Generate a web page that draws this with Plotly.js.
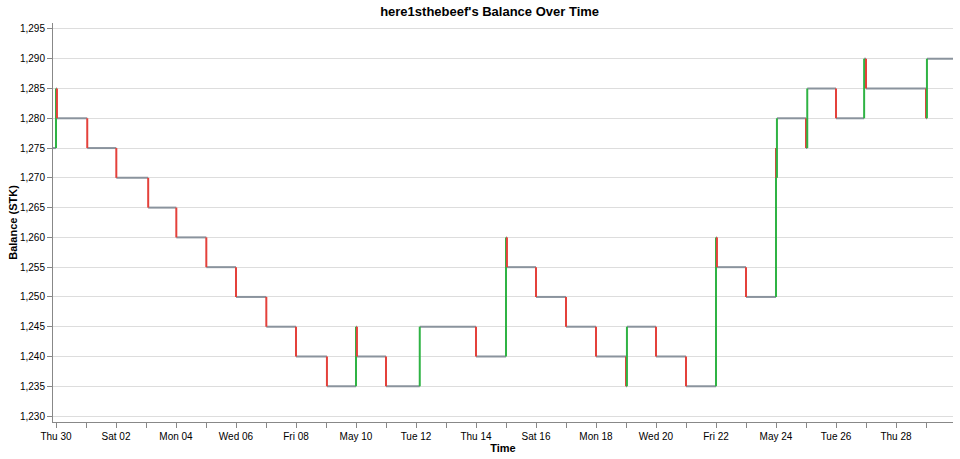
<!DOCTYPE html>
<html>
<head>
<meta charset="utf-8">
<script src="https://cdn.plot.ly/plotly-3.0.1.min.js"></script>
<style>
  html, body { margin: 0; padding: 0; background: #ffffff; }
  #chart { width: 960px; height: 459px; }
</style>
</head>
<body>
<div id="chart"></div>
<script>
// Balance history: timestamp of each transaction and the balance after it
const eventTimes = [
  '2026-04-29 21:36', '2026-04-30 00:00', '2026-04-30 00:45', '2026-05-01 01:00',
  '2026-05-02 00:15', '2026-05-03 01:45', '2026-05-04 00:15', '2026-05-05 00:15',
  '2026-05-06 00:00', '2026-05-07 00:15', '2026-05-08 00:00', '2026-05-09 00:45',
  '2026-05-10 00:00', '2026-05-10 00:45', '2026-05-11 00:00', '2026-05-12 03:00',
  '2026-05-14 00:00', '2026-05-15 00:00', '2026-05-15 00:45', '2026-05-16 00:00',
  '2026-05-17 00:00', '2026-05-18 00:00', '2026-05-19 00:00', '2026-05-19 00:45',
  '2026-05-20 00:00', '2026-05-21 00:00', '2026-05-22 00:00', '2026-05-22 00:45',
  '2026-05-23 00:00', '2026-05-24 00:00', '2026-05-24 00:05', '2026-05-24 00:45',
  '2026-05-25 00:00', '2026-05-25 01:00', '2026-05-26 00:00', '2026-05-26 22:30',
  '2026-05-27 00:00', '2026-05-29 00:00', '2026-05-29 00:45', '2026-05-29 21:36'
];
const balances = [
  1275, 1285, 1280, 1275,
  1270, 1265, 1260, 1255,
  1250, 1245, 1240, 1235,
  1245, 1240, 1235, 1245,
  1240, 1260, 1255, 1250,
  1245, 1240, 1235, 1245,
  1240, 1235, 1260, 1255,
  1250, 1275, 1270, 1280,
  1275, 1285, 1280, 1290,
  1285, 1280, 1290, 1290
];

// Axis ticks: one tick a day, label every other day
const dayTicks = [
  '2026-04-30', '2026-05-01', '2026-05-02', '2026-05-03', '2026-05-04', '2026-05-05',
  '2026-05-06', '2026-05-07', '2026-05-08', '2026-05-09', '2026-05-10', '2026-05-11',
  '2026-05-12', '2026-05-13', '2026-05-14', '2026-05-15', '2026-05-16', '2026-05-17',
  '2026-05-18', '2026-05-19', '2026-05-20', '2026-05-21', '2026-05-22', '2026-05-23',
  '2026-05-24', '2026-05-25', '2026-05-26', '2026-05-27', '2026-05-28', '2026-05-29'
];
const dayLabels = [
  'Thu 30', '', 'Sat 02', '', 'Mon 04', '', 'Wed 06', '', 'Fri 08', '',
  'May 10', '', 'Tue 12', '', 'Thu 14', '', 'Sat 16', '', 'Mon 18', '',
  'Wed 20', '', 'Fri 22', '', 'May 24', '', 'Tue 26', '', 'Thu 28', ''
];
const balanceTicks = [1230, 1235, 1240, 1245, 1250, 1255, 1260, 1265, 1270, 1275, 1280, 1285, 1290, 1295];

const COLORS = {
  FLAT: '#8a939d',
  UP: '#2fb344',
  DOWN: '#e4413b'
};
const FONT = '"Liberation Sans", Arial, sans-serif';

const traces = [];

// Flat stretches between transactions
const flatX = [];
const flatY = [];
for (let i = 0; i < eventTimes.length - 1; i++) {
  flatX.push(eventTimes[i], eventTimes[i + 1], null);
  flatY.push(balances[i], balances[i], null);
}
traces.push({
  x: flatX,
  y: flatY,
  mode: 'lines',
  line: { color: COLORS.FLAT, width: 2 },
  hoverinfo: 'skip',
  showlegend: false
});

// Each change as its own vertical rule, drawn in time order
for (let i = 1; i < eventTimes.length; i++) {
  const delta = balances[i] - balances[i - 1];
  if (delta === 0) continue;
  traces.push({
    x: [eventTimes[i], eventTimes[i]],
    y: [balances[i - 1], balances[i]],
    mode: 'lines',
    line: { color: delta > 0 ? COLORS.UP : COLORS.DOWN, width: 2 },
    hovertemplate: '%{x}<br>Balance: %{y:,}<extra></extra>',
    showlegend: false
  });
}

const layout = {
  width: 960,
  height: 459,
  margin: { l: 53, r: 7, t: 23, b: 37 },
  paper_bgcolor: '#ffffff',
  plot_bgcolor: '#ffffff',
  font: { family: FONT, size: 10, color: '#000' },
  title: {
    text: "<b>here1sthebeef's Balance Over Time</b>",
    font: { family: FONT, size: 13, color: '#000' },
    xref: 'container',
    yref: 'container',
    x: 0.51,
    y: 0.976,
    xanchor: 'center',
    yanchor: 'middle'
  },
  xaxis: {
    type: 'date',
    range: [eventTimes[0], eventTimes[eventTimes.length - 1]],
    tickmode: 'array',
    tickvals: dayTicks,
    ticktext: dayLabels,
    ticks: 'outside',
    ticklen: 5,
    tickcolor: '#888',
    showline: true,
    linecolor: '#888',
    linewidth: 1,
    showgrid: false,
    zeroline: false,
    tickfont: { family: FONT, size: 10, color: '#000' },
    title: {
      text: '<b>Time</b>',
      font: { family: FONT, size: 11, color: '#000' },
      standoff: 3
    }
  },
  yaxis: {
    range: [1229, 1296],
    tickmode: 'array',
    tickvals: balanceTicks,
    tickformat: ',d',
    ticks: 'outside',
    ticklen: 5,
    tickcolor: '#888',
    showline: true,
    linecolor: '#888',
    linewidth: 1,
    showgrid: true,
    gridcolor: '#dddddd',
    gridwidth: 1,
    zeroline: false,
    tickfont: { family: FONT, size: 10, color: '#000' },
    title: {
      text: '<b>Balance (STK)</b>',
      font: { family: FONT, size: 11, color: '#000' },
      standoff: 0
    }
  },
  hovermode: 'closest'
};

Plotly.newPlot('chart', traces, layout, { displayModeBar: false, responsive: false });
</script>
</body>
</html>
